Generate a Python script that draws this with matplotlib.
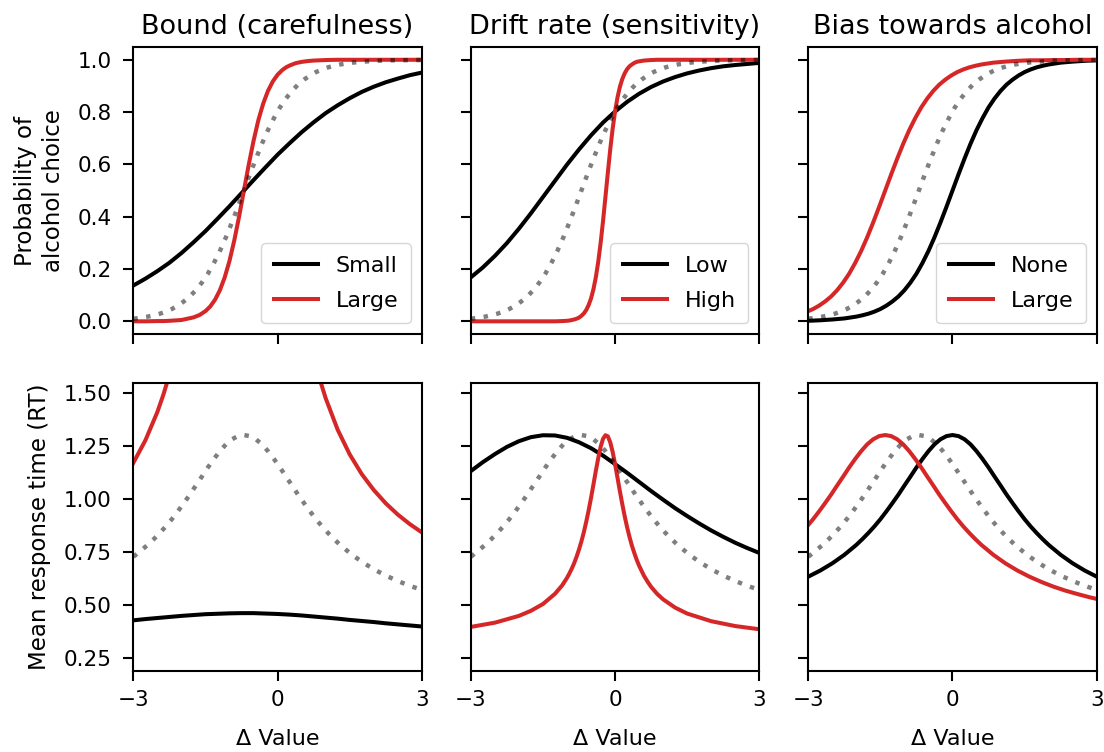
import matplotlib
matplotlib.use("Agg")
import matplotlib.pyplot as plt

# ---------------- data ----------------
x = [-3.0, -2.75, -2.5, -2.25, -2.0, -1.75, -1.5, -1.25, -1.0, -0.75, -0.5, -0.25,
     0.0, 0.25, 0.5, 0.75, 1.0, 1.25, 1.5, 1.75, 2.0, 2.25, 2.5, 2.75, 3.0]

# reference (grey dotted) curve, identical in all panels
gray_x = [-3.0, -2.95, -2.7, -2.575, -2.45, -2.325, -2.2, -2.075, -1.95, -1.825, -1.7, -1.575,
          -1.45, -1.325, -1.2, -1.075, -0.95, -0.825, -0.7, -0.575, -0.45, -0.325, -0.2, -0.075,
          0.05, 0.175, 0.3, 0.425, 0.55, 0.675, 0.8, 0.925, 1.05, 1.175, 1.3, 1.55, 1.8, 2.05,
          2.3, 2.55, 2.8, 3.0]
gray_p = [0.010, 0.011, 0.018, 0.023, 0.029, 0.037, 0.047, 0.060, 0.076, 0.095, 0.119, 0.148,
          0.182, 0.223, 0.269, 0.321, 0.378, 0.438, 0.500, 0.562, 0.622, 0.679, 0.731, 0.777,
          0.818, 0.852, 0.881, 0.905, 0.924, 0.940, 0.953, 0.963, 0.971, 0.977, 0.982, 0.989,
          0.993, 0.996, 0.998, 0.998, 0.999, 0.999]
gray_rt = [0.726, 0.735, 0.782, 0.809, 0.838, 0.869, 0.903, 0.940, 0.979, 1.019, 1.062, 1.104,
           1.147, 1.187, 1.224, 1.256, 1.280, 1.295, 1.300, 1.295, 1.280, 1.256, 1.224, 1.187,
           1.147, 1.104, 1.062, 1.019, 0.979, 0.940, 0.903, 0.869, 0.838, 0.809, 0.782, 0.735,
           0.695, 0.661, 0.632, 0.607, 0.585, 0.570]

# Bound (carefulness)
bound_small_p = [0.137, 0.163, 0.192, 0.224, 0.261, 0.302, 0.345, 0.392, 0.440, 0.490, 0.540, 0.589,
                 0.637, 0.681, 0.723, 0.761, 0.796, 0.826, 0.853, 0.877, 0.897, 0.914, 0.928, 0.941, 0.951]
bound_small_rt = [0.426, 0.432, 0.437, 0.442, 0.447, 0.451, 0.455, 0.457, 0.459, 0.460, 0.460, 0.458,
                  0.456, 0.453, 0.449, 0.444, 0.439, 0.434, 0.428, 0.423, 0.418, 0.412, 0.407, 0.402, 0.397]
bound_large_x = [-3.0, -2.75, -2.5, -2.375, -2.25, -2.0, -1.75, -1.625, -1.5, -1.4, -1.3, -1.2,
                 -1.1, -1.0, -0.9, -0.8, -0.7, -0.6, -0.5, -0.4, -0.3, -0.2, -0.1, 0.0, 0.1,
                 0.175, 0.25, 0.375, 0.5, 0.625, 0.75, 0.875, 1.0, 1.25, 1.5, 1.75, 2.0, 2.25,
                 2.5, 2.75, 3.0]
bound_large_p = [0.000, 0.000, 0.001, 0.001, 0.002, 0.005, 0.015, 0.024, 0.039, 0.057, 0.083, 0.119,
                 0.168, 0.231, 0.310, 0.401, 0.500, 0.599, 0.690, 0.769, 0.832, 0.881, 0.917, 0.943,
                 0.961, 0.971, 0.978, 0.987, 0.992, 0.995, 0.997, 0.998, 0.999, 1.000, 1.000, 1.000,
                 1.000, 1.000, 1.000, 1.000, 1.000]
bound_large_rt = [1.169, 1.275, 1.409, 1.491, 1.585, 1.822, 2.148, 2.358, 2.604, 2.830, 3.079, 3.346,
                  3.620, 3.880, 4.100, 4.248, 4.300, 4.248, 4.100, 3.880, 3.620, 3.346, 3.079, 2.830,
                  2.604, 2.452, 2.313, 2.111, 1.939, 1.794, 1.671, 1.565, 1.474, 1.325, 1.209, 1.116,
                  1.041, 0.978, 0.925, 0.880, 0.841]

# Drift rate (sensitivity)
drift_low_p = [0.168, 0.206, 0.250, 0.299, 0.354, 0.413, 0.475, 0.537, 0.599, 0.657, 0.711, 0.760,
               0.802, 0.839, 0.870, 0.896, 0.917, 0.934, 0.948, 0.959, 0.968, 0.975, 0.980, 0.984, 0.988]
drift_low_rt = [1.130, 1.172, 1.210, 1.244, 1.271, 1.290, 1.299, 1.298, 1.287, 1.266, 1.238, 1.203,
                1.163, 1.122, 1.079, 1.036, 0.995, 0.955, 0.918, 0.883, 0.850, 0.820, 0.792, 0.767, 0.744]
drift_high_x = [-3.0, -2.5, -2.0, -1.75, -1.5, -1.25, -1.1, -1.0, -0.95, -0.9, -0.85, -0.8, -0.75,
                -0.7, -0.65, -0.6, -0.55, -0.5, -0.45, -0.4, -0.35, -0.3, -0.25, -0.2, -0.15, -0.1,
                -0.05, 0.0, 0.05, 0.1, 0.15, 0.2, 0.25, 0.3, 0.35, 0.4, 0.45, 0.5, 0.6, 0.675,
                0.75, 0.875, 1.0, 1.25, 1.5, 2.0, 2.5, 3.0]
drift_high_p = [0.000, 0.000, 0.000, 0.000, 0.000, 0.000, 0.001, 0.002, 0.003, 0.005, 0.007, 0.010,
                0.014, 0.021, 0.030, 0.043, 0.062, 0.087, 0.122, 0.168, 0.227, 0.299, 0.383, 0.475,
                0.568, 0.657, 0.736, 0.802, 0.855, 0.896, 0.926, 0.948, 0.964, 0.975, 0.982, 0.988,
                0.992, 0.994, 0.997, 0.998, 0.999, 1.000, 1.000, 1.000, 1.000, 1.000, 1.000, 1.000]
drift_high_rt = [0.395, 0.415, 0.447, 0.471, 0.503, 0.551, 0.591, 0.626, 0.647, 0.670, 0.696, 0.726,
                 0.760, 0.798, 0.841, 0.890, 0.944, 1.003, 1.066, 1.130, 1.191, 1.244, 1.282, 1.299,
                 1.294, 1.266, 1.221, 1.163, 1.100, 1.036, 0.975, 0.918, 0.866, 0.820, 0.779, 0.744,
                 0.712, 0.684, 0.637, 0.609, 0.584, 0.551, 0.525, 0.486, 0.458, 0.422, 0.399, 0.384]

# Bias towards alcohol
bias_none_x = [-3.0, -2.75, -2.5, -2.25, -2.0, -1.875, -1.75, -1.625, -1.5, -1.375, -1.25, -1.125,
               -1.0, -0.875, -0.75, -0.625, -0.5, -0.375, -0.25, -0.125, 0.0, 0.125, 0.25, 0.375,
               0.5, 0.625, 0.75, 0.875, 1.0, 1.125, 1.25, 1.375, 1.5, 1.625, 1.75, 1.875, 2.0,
               2.25, 2.5, 2.75, 3.0]
bias_none_p = [0.002, 0.004, 0.007, 0.011, 0.018, 0.023, 0.029, 0.037, 0.047, 0.060, 0.076, 0.095,
               0.119, 0.148, 0.182, 0.223, 0.269, 0.321, 0.378, 0.438, 0.500, 0.562, 0.622, 0.679,
               0.731, 0.777, 0.818, 0.852, 0.881, 0.905, 0.924, 0.940, 0.953, 0.963, 0.971, 0.977,
               0.982, 0.989, 0.993, 0.996, 0.998]
bias_none_rt = [0.632, 0.661, 0.695, 0.735, 0.782, 0.809, 0.838, 0.869, 0.903, 0.940, 0.979, 1.019,
                1.062, 1.104, 1.147, 1.187, 1.224, 1.256, 1.280, 1.295, 1.300, 1.295, 1.280, 1.256,
                1.224, 1.187, 1.147, 1.104, 1.062, 1.019, 0.979, 0.940, 0.903, 0.869, 0.838, 0.809,
                0.782, 0.735, 0.695, 0.661, 0.632]
bias_large_x = [-3.0, -2.9, -2.775, -2.65, -2.525, -2.4, -2.275, -2.15, -2.025, -1.9, -1.775, -1.65,
                -1.525, -1.4, -1.275, -1.15, -1.025, -0.9, -0.775, -0.65, -0.525, -0.4, -0.275,
                -0.15, -0.025, 0.1, 0.225, 0.35, 0.475, 0.6, 0.85, 1.1, 1.35, 1.6, 1.85, 2.1, 2.35,
                2.6, 2.85, 3.0]
bias_large_p = [0.039, 0.047, 0.060, 0.076, 0.095, 0.119, 0.148, 0.182, 0.223, 0.269, 0.321, 0.378,
                0.438, 0.500, 0.562, 0.622, 0.679, 0.731, 0.777, 0.818, 0.852, 0.881, 0.905, 0.924,
                0.940, 0.953, 0.963, 0.971, 0.977, 0.982, 0.989, 0.993, 0.996, 0.998, 0.998, 0.999,
                0.999, 1.000, 1.000, 1.000]
bias_large_rt = [0.876, 0.903, 0.940, 0.979, 1.019, 1.062, 1.104, 1.147, 1.187, 1.224, 1.256, 1.280,
                 1.295, 1.300, 1.295, 1.280, 1.256, 1.224, 1.187, 1.147, 1.104, 1.062, 1.019, 0.979,
                 0.940, 0.903, 0.869, 0.838, 0.809, 0.782, 0.735, 0.695, 0.661, 0.632, 0.607, 0.585,
                 0.566, 0.550, 0.535, 0.527]

titles = ["Bound (carefulness)", "Drift rate (sensitivity)", "Bias towards alcohol"]
legend_labels = [("Small", "Large"), ("Low", "High"), ("None", "Large")]
x_ticks = [-3, 0, 3]
x_ticklabels = ["\u22123", "0", "3"]
p_ticks = [0.0, 0.2, 0.4, 0.6, 0.8, 1.0]
p_ticklabels = ["0.0", "0.2", "0.4", "0.6", "0.8", "1.0"]
rt_ticks = [0.25, 0.50, 0.75, 1.00, 1.25, 1.50]
rt_ticklabels = ["0.25", "0.50", "0.75", "1.00", "1.25", "1.50"]

panels = [
    ((x, bound_small_p, bound_small_rt), (bound_large_x, bound_large_p, bound_large_rt)),
    ((x, drift_low_p, drift_low_rt), (drift_high_x, drift_high_p, drift_high_rt)),
    ((bias_none_x, bias_none_p, bias_none_rt), (bias_large_x, bias_large_p, bias_large_rt)),
]

# ---------------- figure ----------------
plt.rcParams['font.family'] = ['DejaVu Sans']
RED = '#d62728'
LW = 2.9
DOT = dict(color='black', alpha=0.5, lw=3.2, linestyle=(0, (1, 1.9)))

fig = plt.figure(figsize=(11.04, 7.52), dpi=100)
axes = fig.subplots(2, 3, sharex=True, sharey='row')
fig.subplots_adjust(left=0.1208, right=0.9934, top=0.9379, bottom=0.1077,
                    wspace=0.17, hspace=0.17)

for j, ((xa, pa, ra), (xb, pb, rb)) in enumerate(panels):
    ax_p = axes[0, j]
    ax_r = axes[1, j]
    ax_p.plot(xa, pa, color='black', lw=LW, label=legend_labels[j][0])
    ax_p.plot(xb, pb, color=RED, lw=LW, label=legend_labels[j][1])
    ax_p.plot(gray_x, gray_p, **DOT)
    ax_r.plot(xa, ra, color='black', lw=LW)
    ax_r.plot(xb, rb, color=RED, lw=LW)
    ax_r.plot(gray_x, gray_rt, **DOT)
    ax_p.set_title(titles[j], fontsize=19.5, pad=9)
    ax_p.legend(loc='lower right', fontsize=16, handlelength=2.0,
                labelspacing=0.7, borderpad=0.55)
    ax_r.set_xlabel("\u0394 Value", fontsize=16, labelpad=14)

for ax in axes.flat:
    ax.set_xlim(-3, 3)
    ax.set_xticks(x_ticks)
    ax.tick_params(labelsize=15.5, length=7, width=1.5)
    ax.tick_params(axis='x', pad=6.5)
    ax.tick_params(axis='y', pad=8.5)
    for sp in ax.spines.values():
        sp.set_linewidth(1.5)

axes[0, 0].set_ylim(-0.05, 1.05)
axes[0, 0].set_yticks(p_ticks)
axes[0, 0].set_yticklabels(p_ticklabels)
axes[1, 0].set_ylim(0.187, 1.544)
axes[1, 0].set_yticks(rt_ticks)
axes[1, 0].set_yticklabels(rt_ticklabels)
axes[1, 0].set_xticklabels(x_ticklabels)

axes[0, 0].set_ylabel("Probability of\nalcohol choice", fontsize=16.5, labelpad=9,
                      linespacing=1.3)
axes[1, 0].set_ylabel("Mean response time (RT)", fontsize=16.5, labelpad=9)

fig.savefig("out.png", dpi=100)
